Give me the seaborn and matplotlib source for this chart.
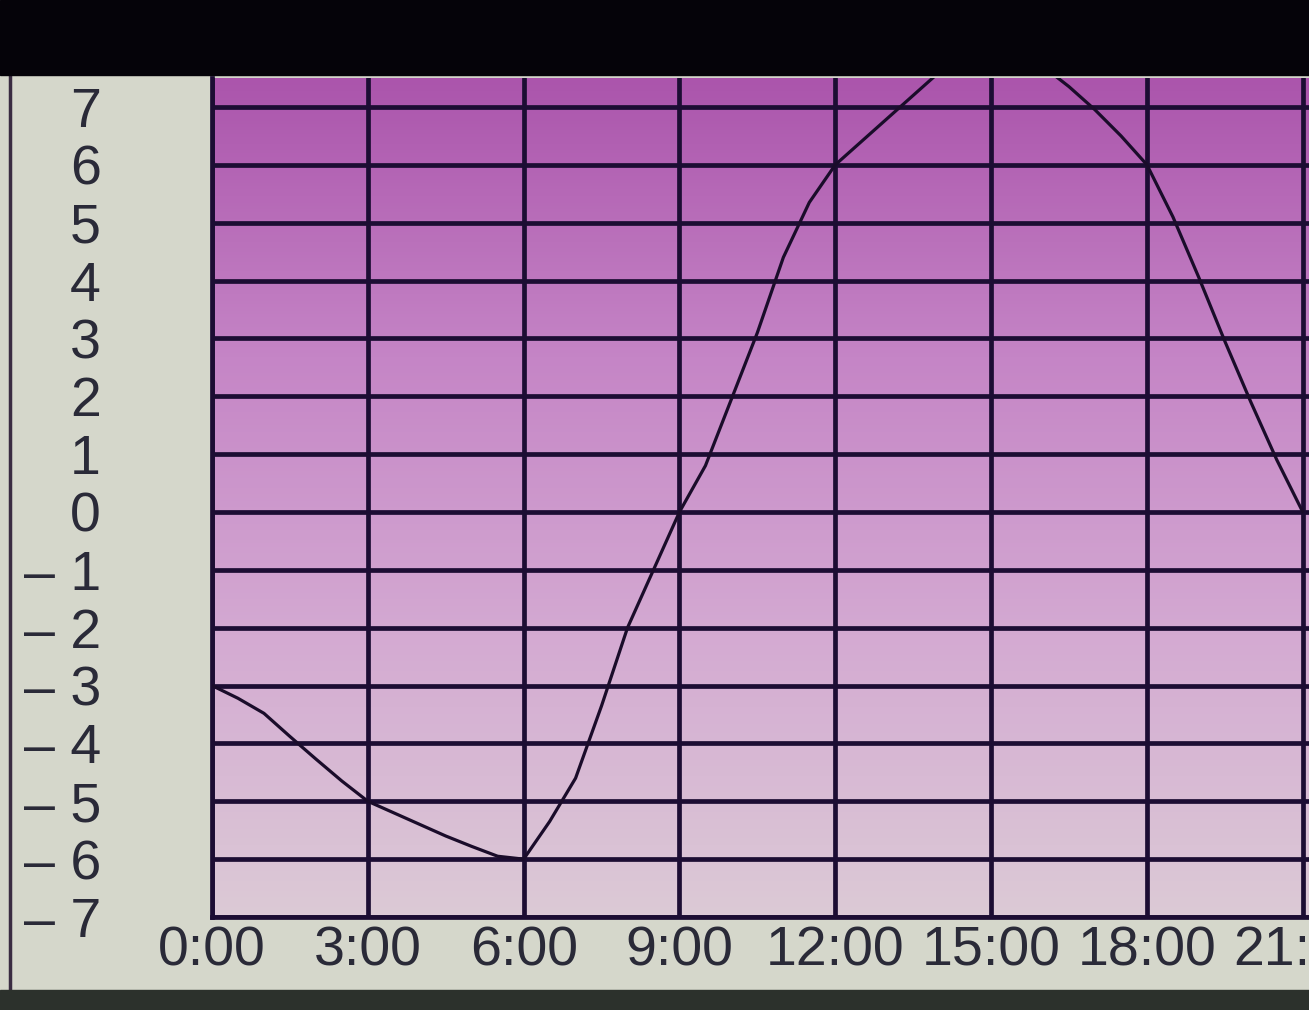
import numpy as np
import matplotlib
matplotlib.use("Agg")
import matplotlib.pyplot as plt
from matplotlib.colors import LinearSegmentedColormap
from matplotlib.patches import Rectangle
import seaborn as sns

# half-hourly readings
hours = [0, 0.5, 1, 1.5, 2, 2.5, 3, 3.5, 4, 4.5, 5, 5.5, 6, 6.5, 7, 7.5, 8, 8.5, 9, 9.5,
         10, 10.5, 11, 11.5, 12, 12.5, 13, 13.5, 14, 14.5, 15, 15.5, 16, 16.5, 17, 17.5,
         18, 18.5, 19, 19.5, 20, 20.5, 21]
temps = [-3.0, -3.22, -3.48, -3.88, -4.27, -4.65, -5.0, -5.2, -5.4, -5.6, -5.78, -5.95,
         -6.0, -5.35, -4.6, -3.35, -2.0, -1.0, 0.0, 0.8, 1.95, 3.1, 4.4, 5.35, 6.0, 6.4,
         6.8, 7.2, 7.6, 7.85, 8.0, 7.9, 7.7, 7.35, 6.95, 6.5, 6.0, 5.1, 4.05, 2.95, 1.9,
         0.9, 0.0]
x_ticks = [0, 3, 6, 9, 12, 15, 18, 21]
x_labels = ["0:00", "3:00", "6:00", "9:00", "12:00", "15:00", "18:00", "21:00"]
y_ticks = list(range(-7, 8))
y_labels = [("\u2013 %d" % abs(v)) if v < 0 else str(v) for v in y_ticks]

sns.set_theme(style="ticks")
plt.rcParams["font.family"] = ["Liberation Sans", "DejaVu Sans"]

grid_col = "#1c0d33"
fig = plt.figure(figsize=(13.09, 10.10), dpi=100, facecolor="#d5d7cb")
ax = fig.add_axes([212 / 1309, 93 / 1010, 1 - 212 / 1309, (932 - 93) / 1010])

x_max = 21.12
y_min, y_max = -7, 7.5

# screen gradient background
cmap = LinearSegmentedColormap.from_list("scr", ["#dccad6", "#d4aad2", "#c585c6", "#ab55ac"])
grad = np.linspace(0, 1, 256).reshape(-1, 1)
ax.imshow(grad, extent=[0, x_max, y_min, y_max], origin="lower", aspect="auto",
          cmap=cmap, zorder=0)

for v in y_ticks:
    ax.axhline(v, color=grid_col, lw=3.4, zorder=1)
for v in x_ticks:
    ax.axvline(v, color=grid_col, lw=3.4, zorder=1)

sns.lineplot(x=hours, y=temps, ax=ax, color="#1a0c2a", lw=2.3, zorder=3)

ax.set_xlim(0, x_max)
ax.set_ylim(y_min, y_max)
ax.set_xticks(x_ticks)
ax.set_xticklabels(x_labels)
ax.set_yticks(y_ticks)
ax.set_yticklabels(y_labels)
ax.tick_params(axis="both", length=0, labelsize=40, colors="#2a2a38")
ax.tick_params(axis="y", pad=80)
ax.tick_params(axis="x", pad=6)
for lab in ax.get_yticklabels():
    lab.set_ha("right")
ax.set_xlabel("")
ax.set_ylabel("")
for s in ["top", "right"]:
    ax.spines[s].set_visible(False)
for s in ["left", "bottom"]:
    ax.spines[s].set_color(grid_col)
    ax.spines[s].set_linewidth(3.4)

# bezel bands and the frame line on the left
fig.patches.append(Rectangle((0, 935 / 1010), 1, 75 / 1010, transform=fig.transFigure,
                             color="#050309", zorder=10))
fig.patches.append(Rectangle((0, 0), 1, 20 / 1010, transform=fig.transFigure,
                             color="#2c312c", zorder=10))
fig.add_artist(plt.Line2D([10 / 1309, 10 / 1309], [20 / 1010, 935 / 1010],
                          transform=fig.transFigure, color="#3a2c42", lw=2.5))

fig.savefig("out.png", dpi=100, facecolor=fig.get_facecolor())
